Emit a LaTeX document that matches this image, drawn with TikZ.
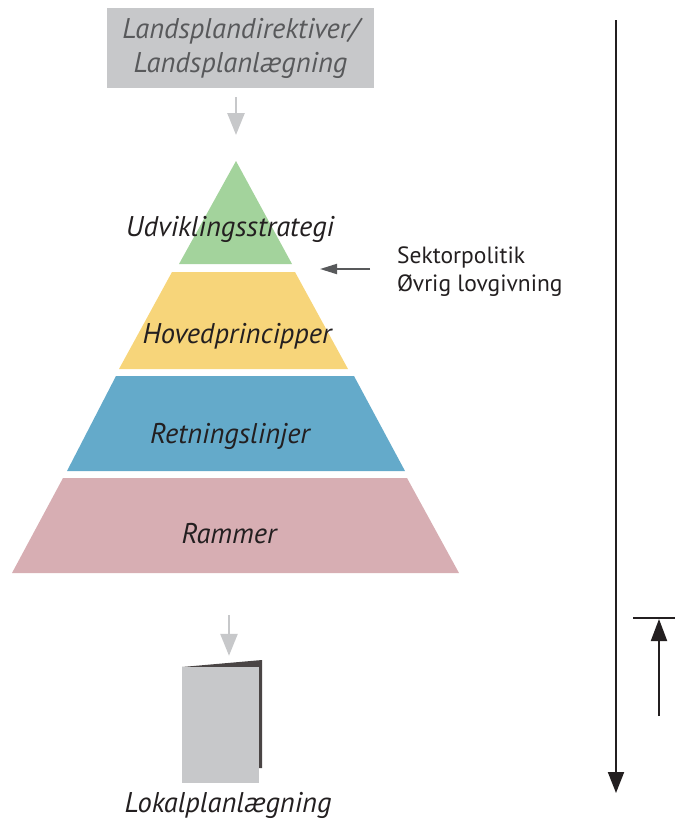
\documentclass[tikz,border=0pt]{standalone}
\usepackage{fontspec}
\setmainfont{PT Sans}
\usetikzlibrary{arrows.meta}

\definecolor{groen}{HTML}{A3D39C}
\definecolor{gul}{HTML}{F7D57A}
\definecolor{blaa}{HTML}{64AACA}
\definecolor{rosa}{HTML}{D7AEB3}
\definecolor{lysgraa}{HTML}{C7C8CA}
\definecolor{moerkgraa}{HTML}{58595B}
\definecolor{ryg}{HTML}{4A4545}
\definecolor{tekst}{HTML}{231F20}

\begin{document}
\begin{tikzpicture}[x=1pt,y=-1pt,
    lag/.style={font=\fontsize{28.5}{33}\selectfont\itshape, text=tekst, anchor=base},
    graapil/.style={draw=lysgraa, line width=2.6pt, -{Triangle[length=22pt,width=17pt]}},
    sortpil/.style={draw=tekst, line width=2pt, -{Triangle[length=21pt,width=16pt]}}]
    \useasboundingbox (0,0) rectangle (675,820);

    \node[fill=lysgraa, minimum width=267pt, minimum height=80pt, text=moerkgraa,
          align=center, font=\fontsize{28.5}{34}\selectfont\itshape] (direktiv) at (240.5,48)
          {Landsplandirektiver/\\Landsplanlægning};

    \fill[groen] (236,161) -- (292,264) -- (179,264) -- cycle;
    \fill[gul] (172,272) -- (295,272) -- (348,369) -- (119,369) -- cycle;
    \fill[blaa] (116,376) -- (354,376) -- (405,471) -- (67,471) -- cycle;
    \fill[rosa] (63,478) -- (407,478) -- (459,573) -- (12,573) -- cycle;
    \coordinate (top) at (236,161);
    \coordinate (bund) at (229,573);

    \node[lag] (strategi) at (230,236) {Udviklingsstrategi};
    \node[lag] (principper) at (237,343) {Hovedprincipper};
    \node[lag] (linjer) at (230,443) {Retningslinjer};
    \node[lag] (rammer) at (229,543) {Rammer};

    \node[anchor=base west, align=left, inner sep=0pt, text=tekst,
          font=\fontsize{23.5}{28}\selectfont] (sektor) at (397,291)
          {Sektorpolitik\\Øvrig lovgivning};
    \coordinate (sektorStart) at (370,269);
    \coordinate (sektorSlut) at (320,269);
    \draw[draw=moerkgraa, line width=2pt, -{Triangle[length=17pt,width=10pt]}]
          (sektorStart) -- (sektorSlut);

    \draw[graapil, shorten <=9pt, shorten >=26pt] (direktiv.south -| top) -- (top);

    \fill[ryg] (182,667) -- (262,660) -- (262,768) -- (259,768) -- cycle;
    \node[fill=lysgraa, minimum width=77pt, minimum height=116pt, inner sep=0pt]
          (lokalplan) at (220.5,725) {};
    \node[lag] (lokaltekst) at (228,812) {Lokalplanlægning};
    \draw[graapil, shorten <=42pt, shorten >=11pt] (bund) -- (bund |- lokalplan.north);

    \coordinate (tidTop) at (616,20);
    \coordinate (tidBund) at (616,793);
    \draw[sortpil] (tidTop) -- (tidBund);

    \coordinate (retBund) at (659,716);
    \coordinate (retTop) at (659,619);
    \draw[draw=tekst, line width=2pt] (633,618) -- (675,618);
    \draw[sortpil, -{Triangle[length=22pt,width=16pt]}] (retBund) -- (retTop);
\end{tikzpicture}
\end{document}
